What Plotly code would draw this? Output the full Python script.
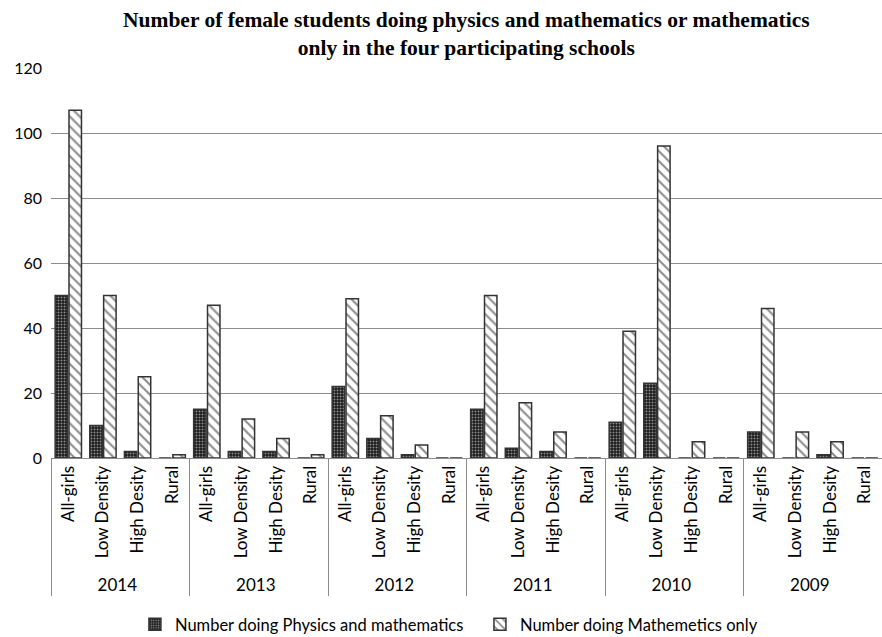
import plotly.graph_objects as go

years = ["2014", "2013", "2012", "2011", "2010", "2009"]
schools = ["All-girls", "Low Density", "High Desity", "Rural"]

physics_math = [
    50, 10, 2, 0,
    15, 2, 2, 0,
    22, 6, 1, 0,
    15, 3, 2, 0,
    11, 23, 0, 0,
    8, 0, 1, 0,
]
math_only = [
    107, 50, 25, 1,
    47, 12, 6, 1,
    49, 13, 4, 0,
    50, 17, 8, 0,
    39, 96, 5, 0,
    46, 8, 5, 0,
]

outer = [y for y in years for _ in schools]
inner = [s for _ in years for s in schools]

font_main = "Lato, 'Open Sans', sans-serif"

fig = go.Figure()
fig.add_trace(go.Bar(
    x=[outer, inner], y=physics_math,
    name="Number doing Physics and mathematics",
    marker=dict(
        color="#1a1a1a",
        line=dict(color="#333333", width=1.5),
        pattern=dict(shape=".", bgcolor="#1a1a1a", fgcolor="#ffffff", size=3, solidity=0.35),
    ),
))
fig.add_trace(go.Bar(
    x=[outer, inner], y=math_only,
    name="Number doing Mathemetics only",
    marker=dict(
        color="#ffffff",
        line=dict(color="#333333", width=1.5),
        pattern=dict(shape="\\", bgcolor="#ffffff", fgcolor="#1a1a1a", size=7, solidity=0.3),
    ),
))

fig.add_annotation(
    text="<b>Number of female students doing physics and mathematics or mathematics<br>only in the four participating schools</b>",
    xref="paper", yref="paper", x=0.5, y=1, xanchor="center", yanchor="middle",
    yshift=34, showarrow=False,
    font=dict(family="'Liberation Serif', 'Times New Roman', serif", size=21.5, color="black"),
)

fig.update_layout(
    width=882, height=637,
    margin=dict(l=51, r=0, t=68, b=179, autoexpand=False),
    paper_bgcolor="white", plot_bgcolor="white",
    barmode="group", bargap=0.2, bargroupgap=0.1,
    font=dict(family=font_main, size=17, color="black"),
    legend=dict(orientation="h", x=0.101, xanchor="left", y=-0.382, yanchor="top",
                font=dict(size=16.5), itemwidth=30, entrywidth=300, entrywidthmode="pixels"),
    showlegend=True,
)
fig.update_yaxes(range=[0, 120], dtick=20, showgrid=True, gridcolor="#8c8c8c", gridwidth=1,
                 zeroline=False, showline=False, ticks="", ticklen=0, tickfont=dict(size=16),
                 automargin=False, ticklabelstandoff=8)
fig.update_xaxes(type="multicategory", tickangle=-90, showline=True, linecolor="#8c8c8c",
                 linewidth=1, showdividers=True, dividercolor="#8c8c8c", dividerwidth=1,
                 ticks="outside", ticklen=8, tickcolor="rgba(0,0,0,0)",
                 tickfont=dict(size=17), automargin=False)

fig.write_html("out.html", config={"displayModeBar": False},
               post_script="document.body.style.margin='0';document.body.style.overflow='hidden';")
